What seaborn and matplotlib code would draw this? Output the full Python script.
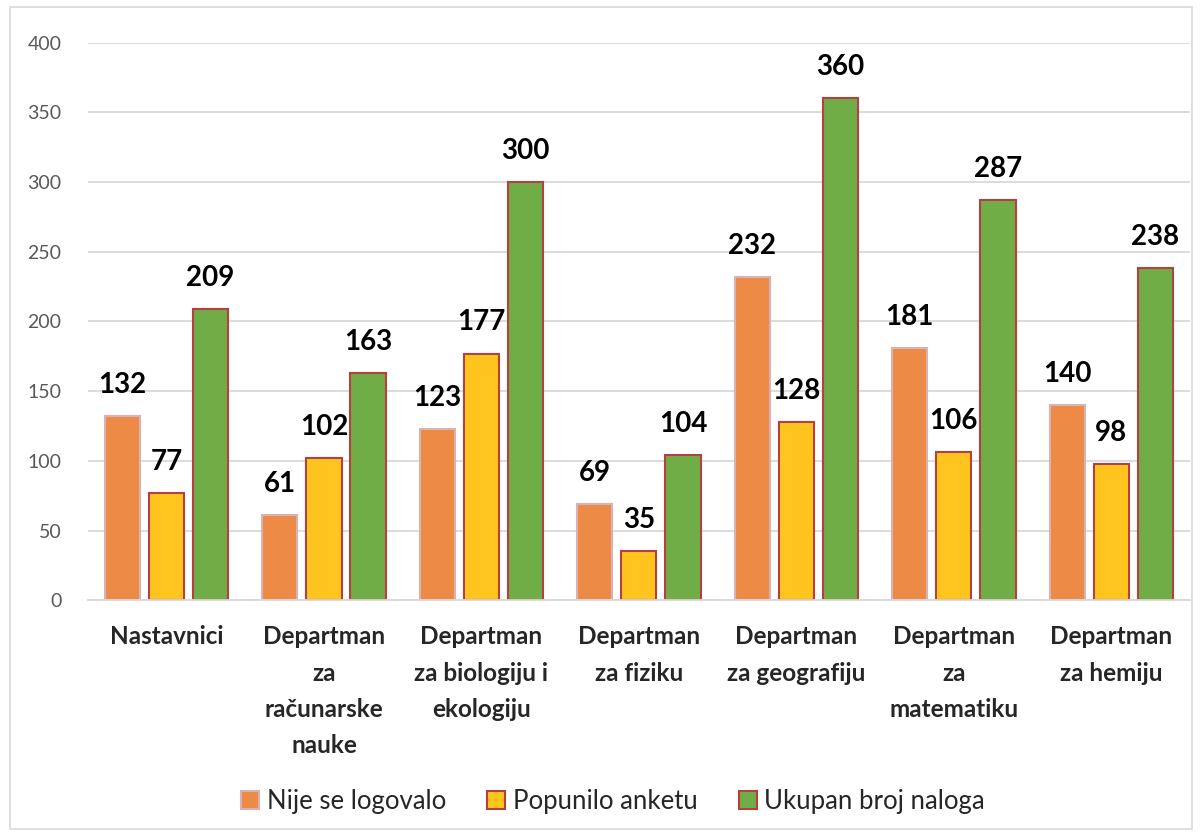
import matplotlib
matplotlib.use("Agg")
import matplotlib.pyplot as plt
import seaborn as sns
import pandas as pd
from matplotlib.patches import Rectangle

categories = [
    "Nastavnici",
    "Departman\nza\nračunarske\nnauke",
    "Departman\nza biologiju i\nekologiju",
    "Departman\nza fiziku",
    "Departman\nza geografiju",
    "Departman\nza\nmatematiku",
    "Departman\nza hemiju",
]
series = ["Nije se logovalo", "Popunilo anketu", "Ukupan broj naloga"]
nije_se_logovalo = [132, 61, 123, 69, 232, 181, 140]
popunilo_anketu = [77, 102, 177, 35, 128, 106, 98]
ukupan_broj = [209, 163, 300, 104, 360, 287, 238]

colors = ["#ED8B46", "#FFC41E", "#70AD47"]
edges = ["#D9B3B3", "#B5403F", "#B5403F"]

sns.set_style("white")
plt.rcParams["font.family"] = ["Lato", "DejaVu Sans"]

df = pd.DataFrame({
    "kategorija": categories * 3,
    "serija": [s for s in series for _ in categories],
    "broj": nije_se_logovalo + popunilo_anketu + ukupan_broj,
})

fig = plt.figure(figsize=(12.02, 8.36), dpi=100)
ax = fig.add_axes([0.073, 0.282, 0.917, 0.667])

sns.barplot(data=df, x="kategorija", y="broj", hue="serija", order=categories,
            hue_order=series, palette=colors, width=0.84, gap=0.2, ax=ax,
            saturation=1, legend=True)

for cont, ec in zip(ax.containers, edges):
    for bar in cont:
        bar.set_edgecolor(ec)
        bar.set_linewidth(1.5)
    ax.bar_label(cont, padding=13, fontsize=20, fontweight="bold", color="black")

ax.set_ylim(0, 400)
ax.set_yticks(range(0, 401, 50))
ax.yaxis.grid(True, color="#D9D9D9", linewidth=1.3)
ax.set_axisbelow(True)
for s in ["top", "right", "left"]:
    ax.spines[s].set_visible(False)
ax.spines["bottom"].set_color("#D9D9D9")
ax.spines["bottom"].set_linewidth(1.3)
ax.tick_params(axis="y", length=0, labelsize=14, labelcolor="#595959", pad=19)
ax.tick_params(axis="x", length=0, labelsize=17.5, pad=18)
for lbl in ax.get_xticklabels():
    lbl.set_fontweight("bold")
    lbl.set_linespacing(1.7)
ax.set_xlabel("")
ax.set_ylabel("")

handles, labels = ax.get_legend_handles_labels()
for h, ec in zip(handles, edges):
    h.set_edgecolor(ec)
    h.set_linewidth(1.5)
ax.legend(handles, labels, loc="center", bbox_to_anchor=(0.51, 0.041),
          bbox_transform=fig.transFigure, ncol=3, frameon=False, fontsize=18.5,
          handlelength=0.7, handleheight=0.7, handletextpad=0.3, columnspacing=1.6)

fig.patches.append(Rectangle((0.008, 0.008), 0.984, 0.984, transform=fig.transFigure,
                             fill=False, edgecolor="#D9D9D9", linewidth=1.2))

fig.savefig("out.png", dpi=100)
